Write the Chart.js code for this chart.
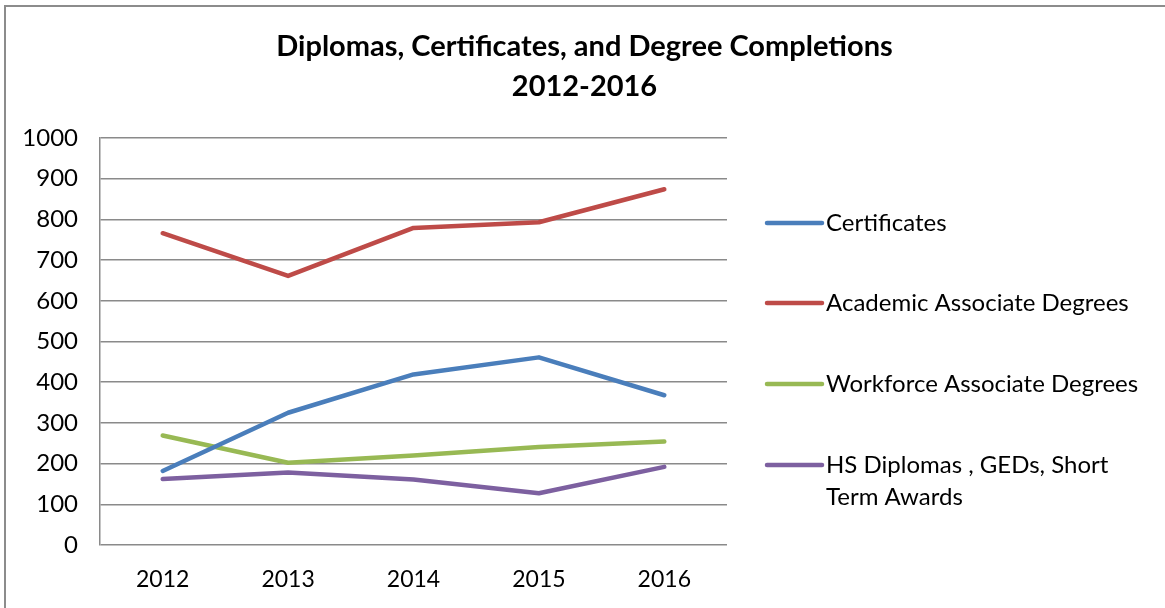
<!DOCTYPE html>
<html>
<head>
<meta charset="utf-8">
<script src="https://cdn.jsdelivr.net/npm/chart.js@4/dist/chart.umd.min.js"></script>
<style>
  html, body { margin: 0; padding: 0; background: #fff; }
  #wrap { width: 1165px; height: 608px; }
</style>
</head>
<body>
<div id="wrap"><canvas id="completionsChart" width="1165" height="608"></canvas></div>
<script>
// Data
const years = ['2012', '2013', '2014', '2015', '2016'];
const certificates = [182, 325, 419, 461, 368];
const academicAssoc = [766, 661, 779, 793, 874];
const workforceAssoc = [269, 202, 220, 241, 254];
const hsDiplomas = [162, 178, 161, 127, 192];
const yTicks = [0, 100, 200, 300, 400, 500, 600, 700, 800, 900, 1000];

const seriesNames = [
    'Certificates',
    'Academic Associate Degrees',
    'Workforce Associate Degrees',
    ['HS Diplomas , GEDs, Short', 'Term Awards']
];
const seriesColors = ['#4A7EBB', '#BE4B48', '#98B954', '#7D60A0'];

const FONT = 'Lato, "Open Sans", sans-serif';
const gridColor = '#8a8a8a';

// outer frame of the chart object
const framePlugin = {
    id: 'frame',
    beforeDraw(chart) {
        const ctx = chart.ctx;
        ctx.save();
        ctx.fillStyle = '#fff';
        ctx.fillRect(0, 0, chart.width, chart.height);
        ctx.strokeStyle = '#8c8c8c';
        ctx.lineWidth = 2;
        ctx.beginPath();
        ctx.moveTo(5, chart.height);
        ctx.lineTo(5, 6);
        ctx.lineTo(chart.width, 6);
        ctx.stroke();
        ctx.restore();
    }
};

// legend on the right, Excel style (line sample + wrapped label)
const sideLegend = {
    id: 'sideLegend',
    afterDraw(chart) {
        const ctx = chart.ctx;
        const x0 = chart.chartArea.right + 40;
        const rows = [223, 303, 384, 465];
        ctx.save();
        ctx.font = '24px ' + FONT;
        ctx.textBaseline = 'middle';
        ctx.fillStyle = '#000';
        chart.data.datasets.forEach((ds, i) => {
            const y = rows[i];
            ctx.strokeStyle = ds.borderColor;
            ctx.lineWidth = 4.5;
            ctx.lineCap = 'round';
            ctx.beginPath();
            ctx.moveTo(x0, y);
            ctx.lineTo(x0 + 55, y);
            ctx.stroke();
            const lines = Array.isArray(ds.label) ? ds.label : [ds.label];
            lines.forEach((t, j) => ctx.fillText(t, x0 + 59, y + j * 32));
        });
        ctx.restore();
    }
};

const datasets = [certificates, academicAssoc, workforceAssoc, hsDiplomas].map((vals, i) => ({
    label: seriesNames[i],
    data: vals,
    borderColor: seriesColors[i],
    backgroundColor: seriesColors[i],
    borderWidth: 4.5,
    borderCapStyle: 'round',
    borderJoinStyle: 'round',
    pointRadius: 0,
    tension: 0,
    fill: false,
    yAxisID: 'y'
}));

const config = {
    type: 'line',
    data: { labels: years, datasets: datasets },
    options: {
        responsive: false,
        animation: false,
        devicePixelRatio: 1,
        layout: { padding: { left: 4, right: 0, top: 0, bottom: 0 } },
        plugins: {
            legend: { display: false },
            tooltip: { enabled: false },
            title: {
                display: true,
                text: ['Diplomas, Certificates, and Degree Completions', '2012-2016'],
                color: '#000',
                font: { family: FONT, size: 29, weight: 'bold', lineHeight: '40px' },
                padding: { top: 27, bottom: 31 }
            }
        },
        scales: {
            y: {
                min: 0,
                max: 1000,
                afterFit(scale) { scale.width = 96; },
                afterBuildTicks(scale) { scale.ticks = yTicks.map(v => ({ value: v })); },
                ticks: {
                    color: '#000',
                    font: { family: FONT, size: 24 },
                    padding: 22,
                    callback: v => String(v)
                },
                grid: { color: gridColor, lineWidth: 1.5, drawTicks: false },
                border: { display: true, color: gridColor, width: 1.5 }
            },
            // empty right-hand box that keeps room for the legend
            legendSpace: {
                type: 'linear',
                position: 'right',
                afterFit(scale) { scale.width = 438; },
                ticks: { display: false },
                grid: { display: false, drawTicks: false },
                border: { display: false }
            },
            x: {
                offset: true,
                afterFit(scale) { scale.height = 63; },
                ticks: { color: '#000', font: { family: FONT, size: 23 }, padding: 21, maxRotation: 0 },
                grid: { display: false, drawTicks: false },
                border: { display: false }
            }
        }
    },
    plugins: [framePlugin, sideLegend]
};

window.onload = () => {
    const ctx = document.getElementById('completionsChart').getContext('2d');
    new Chart(ctx, config);
};
</script>
</body>
</html>
